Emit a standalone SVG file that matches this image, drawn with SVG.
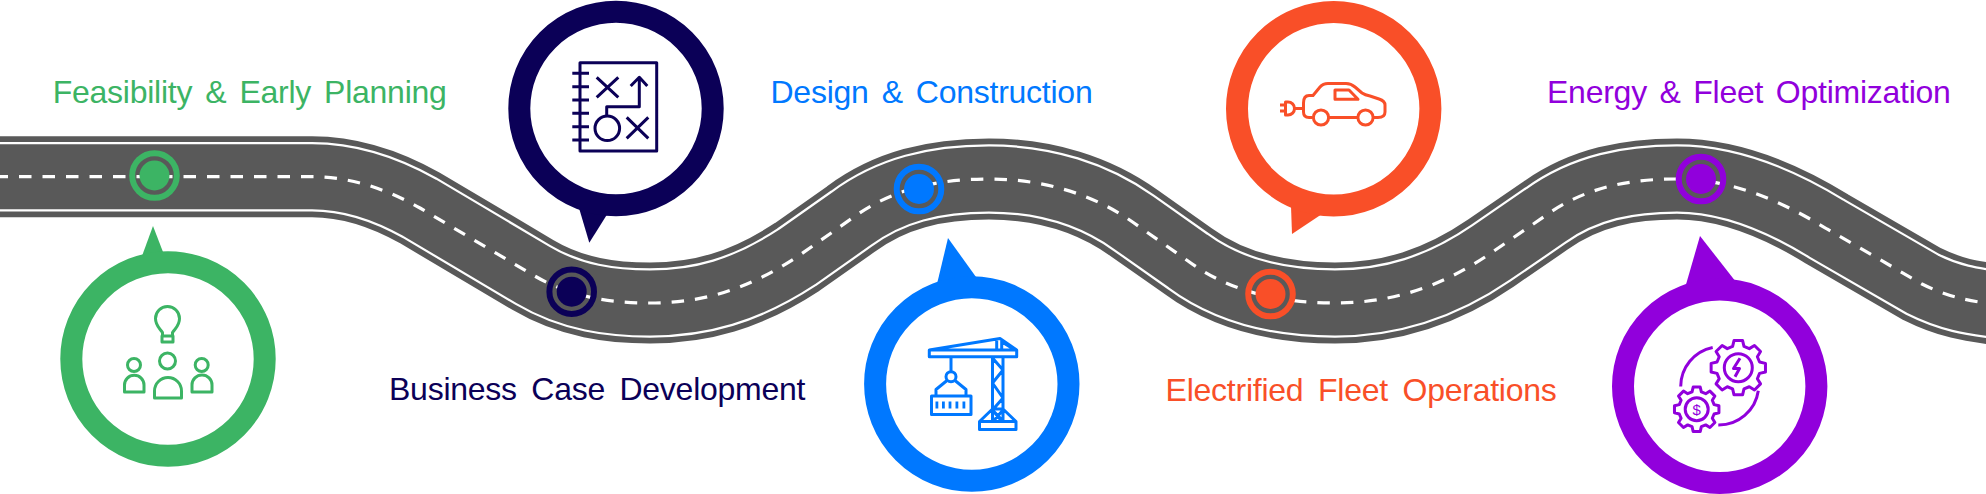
<svg xmlns="http://www.w3.org/2000/svg" xmlns:xlink="http://www.w3.org/1999/xlink" width="1986" height="494" viewBox="0 0 1986 494">
<style>
text{font-family:"Liberation Sans",Arial,sans-serif;font-size:32px;letter-spacing:-.25px;fill:currentColor}
.green{color:#3CB464}.navy{color:#0B0057}.blue{color:#0078FF}.orange{color:#F94F28}.purple{color:#9100DC}
.road{fill:none}
.ring{fill:#fff;stroke:currentColor;stroke-width:22}
.fill{fill:currentColor;stroke:none}
.marker{fill:none;stroke:currentColor;stroke-width:6}
.ln{fill:none;stroke:currentColor;stroke-width:3;stroke-linejoin:round}
.gear{fill:none;stroke:currentColor;stroke-width:3;stroke-linejoin:round}
</style>
<defs>
<path id="roadline" d="M-10 176.7H312C352 176.7 388 190 420 208L533 275C572 298 612 303 650 303C700 303 745 291 797 257L851 219C890 190 935 179 989 179C1045 179 1095 195 1134 223L1188 261C1230 292 1280 303 1335 303C1390 303 1440 288 1491 253L1545 216C1585 187 1630 179 1677 179C1730 179 1780 200 1827 229L1922 284C1950 298 1970 301 2000 305"/>
<polygon id="gearshape" vector-effect="non-scaling-stroke" points=".773,-.207 .988,-.156 .988,.156 .773,.207 .693,.4 .809,.588 .588,.809 .4,.693 .207,.773 .156,.988 -.156,.988 -.207,.773 -.4,.693 -.588,.809 -.809,.588 -.693,.4 -.773,.207 -.988,.156 -.988,-.156 -.773,-.207 -.693,-.4 -.809,-.588 -.588,-.809 -.4,-.693 -.207,-.773 -.156,-.988 .156,-.988 .207,-.773 .4,-.693 .588,-.809 .809,-.588 .693,-.4"/>
</defs>
<rect width="1986" height="494" fill="#fff"/>
<g id="connectors">
<use xlink:href="#roadline" href="#roadline" class="road" stroke="#595959" stroke-width="81"/>
<use xlink:href="#roadline" href="#roadline" class="road" stroke="#fff" stroke-width="69.4"/>
<use xlink:href="#roadline" href="#roadline" class="road" stroke="#595959" stroke-width="65"/>
<use xlink:href="#roadline" href="#roadline" class="road" stroke="#fff" stroke-width="3.2" stroke-dasharray="12.5 11" stroke-dashoffset="18"/>
</g>
<g id="stage-feasibility" class="green">
<circle class="marker" cx="154.5" cy="175.5" r="22.3"/><circle class="fill" cx="154.5" cy="175.5" r="15"/>
<polygon class="fill" points="153,226 142,256 163,252"/>
<circle class="ring" cx="168" cy="359" r="96.7"/>
<path class="ln" d="M162.5 336V332.5C160 328.5 155.5 326 155.5 318.5A12 12 0 0 1 179.5 318.5C179.5 326 175 328.5 172.5 332.5V336M162 336H173V342H162ZM154.5 398H181.5V391A13.5 13.5 0 0 0 154.5 391ZM124.5 392H144V385A9.75 9.75 0 0 0 124.5 385ZM192 392H212V385A10 10 0 0 0 192 385Z"/>
<circle class="ln" cx="167.5" cy="361" r="8"/><circle class="ln" cx="134" cy="365" r="6.5"/><circle class="ln" cx="201.7" cy="365" r="6.5"/>
<text x="52.7" y="103" word-spacing="4.4">Feasibility &amp; Early Planning</text>
</g>
<g id="stage-business" class="navy">
<circle class="marker" cx="571.7" cy="291.7" r="22.3"/><circle class="fill" cx="571.7" cy="291.7" r="15"/>
<polygon class="fill" points="579.3,209 589.3,242.7 606.7,215"/>
<circle class="ring" cx="616" cy="108.5" r="96.7"/>
<path class="ln" d="M580 62.7H656.7V151H580ZM572.3 73.3H589M572.3 86.7H589M572.3 100H589M572.3 113.3H589M572.3 126.7H589M572.3 140H589M596.7 77.3L618.3 97.3M618.3 77.3L596.7 97.3M626.7 117.3L648.3 138.3M648.3 117.3L626.7 138.3M639.3 78.3V106.7H606.7V116M630.7 86L639.3 77.3L647.3 86"/>
<circle class="ln" cx="607.3" cy="128.3" r="12.3"/>
<text x="389" y="400" word-spacing="5.8">Business Case Development</text>
</g>
<g id="stage-design" class="blue">
<circle class="marker" cx="919" cy="189" r="22.3"/><circle class="fill" cx="919" cy="189" r="15"/>
<polygon class="fill" points="948,238 937,284 976,277"/>
<circle class="ring" cx="971.8" cy="384" r="96.7"/>
<path class="ln" d="M929.3 350H1016.7V356.7H929.3ZM929.3 350L1000 338.5L1016.7 350M996.7 340V350M1001.7 339V350M1002 342L1015 350M992.5 356.7V421M1003 356.7V421M992.5 358L1003 370L992.5 383L1003 398L992.5 410L1003 421M979.5 421.5H1016V429.5H979.5ZM979.5 421.5L992.5 409L1003 409L1016 421.5M992.5 410L1002 421.5M1003 410L993 421.5M951 356.7V372M947 380.5L936 389.5V396M955 380.5L966 389.5V396M931.5 396H971V414.5H931.5Z"/>
<circle class="ln" cx="951" cy="376.7" r="5"/>
<path class="fill" d="M935.5 401.5h2.8v7h-2.8zM942 401.5h2.8v7H942zM948.6 401.5h2.8v7h-2.8zM955.5 401.5h2.8v7h-2.8zM962.5 401.5h2.8v7h-2.8z"/>
<text x="770.5" y="103" word-spacing="4.4">Design &amp; Construction</text>
</g>
<g id="stage-fleet" class="orange">
<circle class="marker" cx="1270.5" cy="294" r="22.3"/><circle class="fill" cx="1270.5" cy="294" r="15"/>
<polygon class="fill" points="1291,206 1292,234 1322,214"/>
<circle class="ring" cx="1333.7" cy="108.8" r="96.7"/>
<path class="ln" d="M1312.5 117.5H1309Q1303.5 117.5 1303.5 112V103Q1303.5 95.5 1309 95.5H1313L1320 87Q1323 83.5 1328 83.5H1346Q1351 83.5 1355 87L1362 93Q1365 95 1370 96L1379 99Q1385 101 1385 105V112Q1385 117.5 1378 117.5H1374M1329 117.5H1357M1335 90H1349L1358 99.3H1335ZM1280 105H1285.5M1280 111H1285.5M1285.5 102H1288A6.5 6.5 0 0 1 1288 115H1285.5ZM1294.5 108.5H1303.5"/>
<circle class="ln" cx="1321" cy="117.5" r="7.6"/><circle class="ln" cx="1365.5" cy="117.5" r="7.6"/>
<text x="1165.6" y="400.5" word-spacing="6">Electrified Fleet Operations</text>
</g>
<g id="stage-energy" class="purple">
<circle class="marker" cx="1701" cy="179" r="22.3"/><circle class="fill" cx="1701" cy="179" r="15"/>
<polygon class="fill" points="1700,236 1685,288 1736,282"/>
<circle class="ring" cx="1719.7" cy="386.3" r="96.7"/>
<use xlink:href="#gearshape" href="#gearshape" class="gear" transform="translate(1738.3 367.7) scale(27.5)"/>
<use xlink:href="#gearshape" href="#gearshape" class="gear" transform="translate(1696.7 409.3) scale(22.5)"/>
<circle class="ln" cx="1738.3" cy="367.7" r="14"/><circle class="ln" cx="1696.7" cy="409.3" r="11.5"/>
<path class="ln" d="M1680.7 386.5A40 40 0 0 1 1712.7 347.5M1758.3 390.7A40 40 0 0 1 1718.3 425M1740 358.3L1733.5 368.5H1739.5L1735 376.7"/>
<text x="1696.7" y="414.5" text-anchor="middle" style="font-size:15px;letter-spacing:0">$</text>
<text x="1547" y="103" word-spacing="4">Energy &amp; Fleet Optimization</text>
</g>
</svg>
